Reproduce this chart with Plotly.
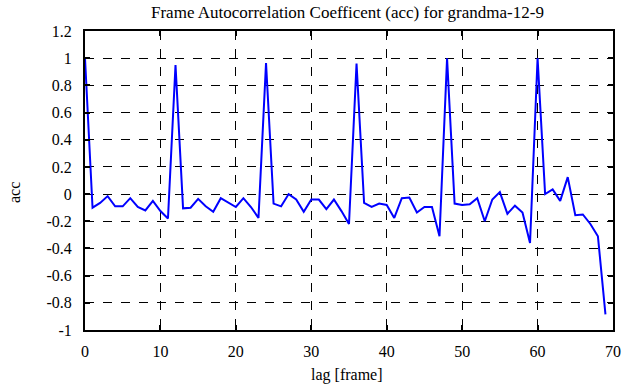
import plotly.graph_objects as go

lags = list(range(70))
acc = [1.0, -0.10, -0.065, -0.015, -0.09, -0.09, -0.03, -0.095, -0.12, -0.05,
       -0.125, -0.18, 0.95, -0.105, -0.10, -0.035, -0.09, -0.13, -0.03, -0.065,
       -0.095, -0.03, -0.095, -0.175, 0.965, -0.07, -0.09, 0.0, -0.04, -0.13,
       -0.04, -0.04, -0.11, -0.04, -0.125, -0.22, 0.96, -0.065, -0.095, -0.07,
       -0.08, -0.175, -0.03, -0.025, -0.135, -0.095, -0.095, -0.31, 1.0, -0.07,
       -0.08, -0.075, -0.03, -0.2, -0.04, 0.015, -0.145, -0.085, -0.135, -0.36,
       1.0, 0.0, 0.035, -0.05, 0.125, -0.155, -0.15, -0.22, -0.31, -0.885]

x_ticks = [0, 10, 20, 30, 40, 50, 60, 70]
y_tick_vals = [1.2, 1.0, 0.8, 0.6, 0.4, 0.2, 0.0, -0.2, -0.4, -0.6, -0.8, -1.0]
y_tick_text = ["1.2", "1", "0.8", "0.6", "0.4", "0.2", "0", "-0.2", "-0.4", "-0.6", "-0.8", "-1"]

title_text = "Frame Autocorrelation Coefficent (acc) for grandma-12-9"
x_title = "lag [frame]"
y_title = "acc"

FONT = "'Liberation Serif', 'DejaVu Serif', 'Times New Roman', serif"
W, H = 635, 387
L, R, T, B = 85, 22, 31, 57

fig = go.Figure()
fig.add_trace(go.Scatter(x=lags, y=acc, mode="lines",
                         line=dict(color="#0000ff", width=2), hoverinfo="skip"))

axis_common = dict(
    showline=True, linecolor="black", linewidth=2, mirror="allticks",
    ticks="inside", ticklen=5, tickcolor="black", tickwidth=1.5,
    showgrid=True, gridcolor="black", gridwidth=1, griddash="dash",
    zeroline=False,
    tickfont=dict(family=FONT, size=16, color="black"),
)

fig.update_xaxes(range=[0, 70], tickvals=x_ticks, ticklabelstandoff=6, **axis_common)
fig.update_yaxes(range=[-1, 1.2], tickvals=y_tick_vals, ticktext=y_tick_text,
                 ticklabelstandoff=8, **axis_common)

pw = W - L - R
ph = H - T - B
def px(x):
    return (x - L) / pw
def py(y):
    return (H - B - y) / ph

fig.add_annotation(text=title_text, x=px(347), y=py(12), xref="paper", yref="paper",
                   showarrow=False, font=dict(family=FONT, size=17, color="black"),
                   xanchor="center", yanchor="middle")
fig.add_annotation(text=x_title, x=px(347), y=py(375), xref="paper", yref="paper",
                   showarrow=False, font=dict(family=FONT, size=16, color="black"),
                   xanchor="center", yanchor="middle")
fig.add_annotation(text=y_title, x=px(14), y=py(193), xref="paper", yref="paper",
                   showarrow=False, textangle=-90,
                   font=dict(family=FONT, size=16, color="black"),
                   xanchor="center", yanchor="middle")

fig.update_layout(
    width=W, height=H,
    margin=dict(l=L, r=R, t=T, b=B),
    font=dict(family=FONT, size=16, color="black"),
    plot_bgcolor="white", paper_bgcolor="white",
    showlegend=False,
    hovermode=False,
)

fig.write_html("out.html", config={"displayModeBar": False},
               post_script="document.body.style.margin='0';document.body.style.overflow='hidden';")
